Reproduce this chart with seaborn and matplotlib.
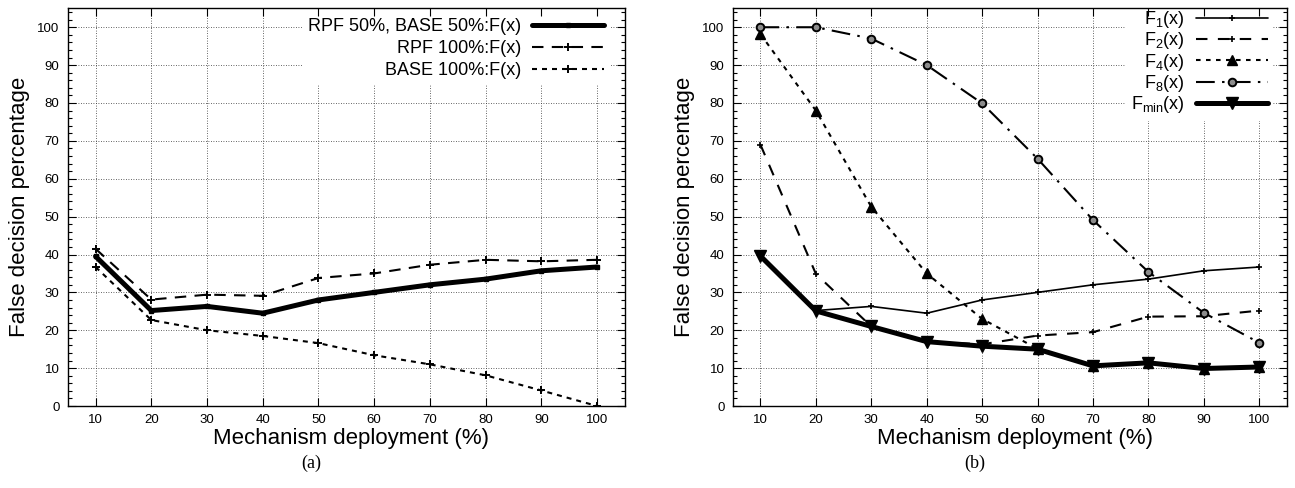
import matplotlib
matplotlib.use("Agg")
import matplotlib.pyplot as plt
from matplotlib.ticker import MultipleLocator
import seaborn as sns

# Deployment levels (%)
deployment = [10, 20, 30, 40, 50, 60, 70, 80, 90, 100]

# Panel (a)
rpf50_base50 = [39.5, 25.2, 26.3, 24.5, 28.0, 30.0, 32.0, 33.5, 35.7, 36.7]
rpf100 = [41.5, 28.1, 29.4, 29.1, 33.8, 35.0, 37.3, 38.6, 38.2, 38.6]
base100 = [36.7, 22.7, 20.0, 18.5, 16.6, 13.4, 11.0, 8.1, 4.1, 0.0]

# Panel (b)
f1 = [39.5, 25.2, 26.3, 24.5, 28.0, 30.0, 32.0, 33.5, 35.7, 36.7]
f2 = [69.0, 34.9, 21.0, 17.0, 16.3, 18.6, 19.5, 23.6, 23.7, 25.2]
f4 = [98.2, 78.0, 52.6, 35.0, 23.0, 15.1, 10.6, 11.4, 9.9, 10.3]
f8 = [100.0, 100.0, 97.0, 90.0, 79.9, 65.3, 49.1, 35.4, 24.6, 16.7]
fmin = [39.6, 25.1, 21.0, 17.0, 15.8, 15.0, 10.6, 11.4, 9.9, 10.3]

sns.set_theme(style="ticks")
plt.rcParams["font.family"] = ["Liberation Sans", "DejaVu Sans"]
plt.rcParams["mathtext.default"] = "regular"
for key in ("text.color", "axes.labelcolor", "xtick.color", "ytick.color",
            "axes.edgecolor", "legend.labelcolor"):
    plt.rcParams[key] = "black"

fig = plt.figure(figsize=(12.95, 4.88), dpi=100)
ax_a = fig.add_axes([0.0523, 0.168, 0.4303, 0.815])
ax_b = fig.add_axes([0.5658, 0.168, 0.4280, 0.815])

K = "black"


def draw(ax, y, label, lw, ls, marker, ms, mew=1.0, mfc=K):
    sns.lineplot(x=deployment, y=y, ax=ax, color=K, lw=lw, linestyle=ls,
                 marker=marker, markersize=ms, markeredgecolor=K,
                 markeredgewidth=mew, markerfacecolor=mfc, label=label,
                 zorder=3)


# (a)
draw(ax_a, rpf50_base50, "RPF 50%, BASE 50%:F(x)", 3.6, "-", "s", 3.5)
draw(ax_a, rpf100, "RPF 100%:F(x)", 1.5, (0, (5.5, 4)), "+", 6, 1.4)
draw(ax_a, base100, "BASE 100%:F(x)", 1.5, (0, (2.4, 2.4)), "+", 6, 1.4)

# (b)
draw(ax_b, f1, "F$_1$(x)", 1.2, "-", "+", 5, 1.2)
draw(ax_b, f2, "F$_2$(x)", 1.5, (0, (5.5, 5)), "+", 5, 1.2)
draw(ax_b, f4, "F$_4$(x)", 1.5, (0, (2.2, 2.6)), "^", 6.5)
draw(ax_b, f8, "F$_8$(x)", 1.5, (0, (9, 3.5, 1.2, 3.5)), "o", 5.5, 1.4, "#8c8c8c")
draw(ax_b, fmin, "F$_{min}$(x)", 3.6, "-", "v", 9)

legend_spec = {
    ax_a: dict(anchor=(0.9723, 0.989), spacing=0.28),
    ax_b: dict(anchor=(0.9755, 1.012), spacing=0.02),
}

grid_style = dict(linestyle=(0, (1, 2)), linewidth=0.6, color="#333333",
                  zorder=0.5)

for ax in (ax_a, ax_b):
    ax.set_xlim(5, 105)
    ax.set_ylim(0, 105)
    ax.xaxis.set_major_locator(MultipleLocator(10))
    ax.yaxis.set_major_locator(MultipleLocator(10))
    ax.yaxis.set_minor_locator(MultipleLocator(2))
    ax.tick_params(which="both", direction="in", top=True, right=True,
                   labelsize=9.5, colors=K, pad=6)
    ax.tick_params(which="major", length=6, width=0.8)
    ax.tick_params(which="minor", length=3, width=0.8)
    # dotted grid under the key box, ticks and frame above it
    ax.grid(False)
    for xv in ax.get_xticks():
        if 5 < xv < 105:
            ax.axvline(xv, **grid_style)
    for yv in ax.get_yticks():
        if 0 < yv < 105:
            ax.axhline(yv, **grid_style)
    ax.set_axisbelow(False)
    for sp in ax.spines.values():
        sp.set_linewidth(1.0)
        sp.set_color(K)
        sp.set_zorder(4)
    ax.set_xlabel("Mechanism deployment (%)", fontsize=16, labelpad=1)
    ax.xaxis.label.set_x(0.509)
    ax.set_ylabel("False decision percentage", fontsize=16, labelpad=5)
    spec = legend_spec[ax]
    leg = ax.legend(loc="upper right", bbox_to_anchor=spec["anchor"],
                    markerfirst=False, frameon=True, fontsize=13,
                    handlelength=4.0, handletextpad=0.6,
                    labelspacing=spec["spacing"], borderaxespad=0.0,
                    borderpad=0.3, numpoints=1, fancybox=False)
    leg.set_zorder(2.4)
    fr = leg.get_frame()
    fr.set_facecolor("white")
    fr.set_edgecolor("none")
    fr.set_alpha(1.0)
    fr.set_clip_on(True)
    fr.set_clip_box(ax.bbox)

# Sub-figure captions
serif = ["Liberation Serif", "DejaVu Serif"]
fig.text(311 / 1295, 1 - 463 / 488, "(a)", ha="center", va="center",
         fontsize=13, family=serif)
fig.text(975 / 1295, 1 - 463 / 488, "(b)", ha="center", va="center",
         fontsize=13, family=serif)

fig.savefig("out.png", dpi=100)
